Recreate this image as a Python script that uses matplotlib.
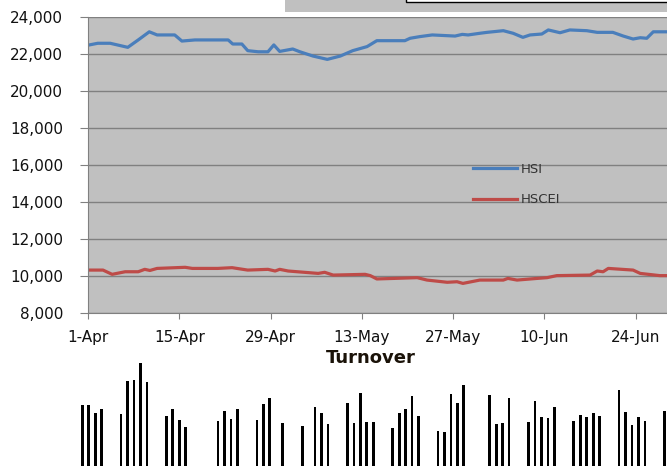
import numpy as np
import matplotlib
matplotlib.use("Agg")
import matplotlib.pyplot as plt
from matplotlib.patches import Rectangle

# index levels, x = days since 1-Apr
hsi_day = [0.2, 1.5, 3.4, 6.1, 7.7, 9.4, 10.6, 13.3, 14.4, 16.4, 21.5, 22.2, 23.6,
           24.5, 26.1, 27.6, 28.5, 29.4, 31.4, 32.5, 34.5, 36.7, 38.7, 40.6, 42.8,
           44.3, 48.6, 49.4, 50.9, 52.8, 56.3, 57.4, 58.3, 60.1, 61.2, 63.7, 65.2,
           66.7, 67.8, 69.6, 70.6, 72.4, 73.9, 76.5, 78.1, 80.5, 82.1, 83.6, 84.7,
           85.7, 86.7, 90.0]
hsi_val = [22490, 22580, 22580, 22360, 22760, 23200, 23030, 23030, 22700, 22760,
           22760, 22540, 22540, 22180, 22120, 22120, 22490, 22140, 22270, 22120,
           21890, 21710, 21890, 22180, 22400, 22720, 22720, 22850, 22940, 23030,
           22970, 23060, 23030, 23120, 23170, 23260, 23120, 22900, 23030, 23080,
           23300, 23150, 23300, 23260, 23170, 23170, 22970, 22810, 22880, 22850,
           23200, 23200]

hscei_day = [0.3, 2.3, 3.7, 5.7, 7.7, 8.7, 9.5, 10.6, 14.9, 16.0, 19.9, 22.1, 24.5,
             27.6, 28.7, 29.4, 30.7, 35.3, 36.3, 37.6, 42.5, 43.3, 44.3, 50.5, 52.0,
             55.1, 56.6, 57.5, 60.1, 63.7, 64.4, 65.8, 68.9, 70.4, 71.9, 77.0, 78.1,
             79.0, 79.8, 83.6, 84.7, 87.7, 90.0]
hscei_val = [10320, 10320, 10090, 10230, 10230, 10360, 10300, 10410, 10470, 10410,
             10410, 10450, 10320, 10360, 10270, 10360, 10270, 10140, 10200, 10050,
             10090, 10020, 9840, 9910, 9780, 9660, 9690, 9600, 9780, 9780, 9870,
             9780, 9870, 9910, 10020, 10050, 10270, 10230, 10410, 10320, 10140,
             10020, 10020]

tick_labels = ['1-Apr', '15-Apr', '29-Apr', '13-May', '27-May', '10-Jun', '24-Jun']

# daily turnover (relative bar heights)
turnover_dates = ['2014-04-01', '2014-04-02', '2014-04-03', '2014-04-04',
                  '2014-04-07', '2014-04-08', '2014-04-09', '2014-04-10', '2014-04-11',
                  '2014-04-14', '2014-04-15', '2014-04-16', '2014-04-17',
                  '2014-04-22', '2014-04-23', '2014-04-24', '2014-04-25',
                  '2014-04-28', '2014-04-29', '2014-04-30', '2014-05-02',
                  '2014-05-05', '2014-05-07', '2014-05-08', '2014-05-09',
                  '2014-05-12', '2014-05-13', '2014-05-14', '2014-05-15', '2014-05-16',
                  '2014-05-19', '2014-05-20', '2014-05-21', '2014-05-22', '2014-05-23',
                  '2014-05-26', '2014-05-27', '2014-05-28', '2014-05-29', '2014-05-30',
                  '2014-06-03', '2014-06-04', '2014-06-05', '2014-06-06',
                  '2014-06-09', '2014-06-10', '2014-06-11', '2014-06-12', '2014-06-13',
                  '2014-06-16', '2014-06-17', '2014-06-18', '2014-06-19', '2014-06-20',
                  '2014-06-23', '2014-06-24', '2014-06-25', '2014-06-26', '2014-06-27',
                  '2014-06-30']
turnover = [61, 61, 53, 57,
            52, 85, 86, 103, 84,
            50, 57, 46, 39,
            45, 55, 47, 57,
            46, 62, 68, 43,
            40, 59, 53, 42,
            63, 43, 73, 44, 44,
            38, 53, 57, 70, 50,
            35, 34, 72, 63, 81,
            71, 42, 43, 68,
            44, 65, 49, 48, 59,
            45, 51, 49, 53, 50,
            76, 54, 41, 49, 45,
            55]

W, H = 667, 466
fig = plt.figure(figsize=(W / 100, H / 100), dpi=100)

# top right leftovers of the page
fig.patches.append(Rectangle((285 / W, 1 - 11.5 / H), (W - 285) / W, 11.5 / H,
                             transform=fig.transFigure, facecolor='#c0c0c0',
                             edgecolor='none', zorder=0))
fig.patches.append(Rectangle((406 / W, 1 - 1.5 / H), (W - 400) / W, 5 / H,
                             transform=fig.transFigure, facecolor='white',
                             edgecolor='black', linewidth=1, zorder=1))

ax = fig.add_axes([88 / W, 1 - 313 / H, (W - 88) / W, 296 / H])
ax.set_facecolor('#c0c0c0')
ax.plot(hsi_day, hsi_val, color='#4a7ebb', lw=2.3, label='HSI')
ax.plot(hscei_day, hscei_val, color='#be4b48', lw=2.3, label='HSCEI')
ax.set_xlim(0, (W - 88) / 6.52)
ax.set_ylim(8000, 24000)
ax.set_yticks(range(8000, 24001, 2000))
ax.set_yticklabels(['{:,}'.format(v) for v in range(8000, 24001, 2000)])
ax.set_xticks(range(0, 85, 14))
ax.set_xticklabels(tick_labels)
ax.yaxis.grid(True, color='#808080', lw=1)
ax.set_axisbelow(True)
for s in ['top', 'right']:
    ax.spines[s].set_visible(False)
for s in ['left', 'bottom']:
    ax.spines[s].set_color('#808080')
ax.tick_params(axis='y', length=6, color='#808080', pad=12, labelsize=11,
               labelcolor='#111111')
ax.tick_params(axis='x', length=4, color='#808080', pad=8, labelsize=11,
               labelcolor='#111111')
ax.legend(loc='upper left', bbox_to_anchor=(473 / W, 1 - 163 / H),
          bbox_transform=fig.transFigure, frameon=False, fontsize=9.5,
          handlelength=3.3, handletextpad=0.3, labelspacing=1.3,
          borderpad=0, borderaxespad=0, labelcolor='#333333')

fig.text(371 / W, 1 - 358 / H, 'Turnover', ha='center', va='center',
         fontsize=13, fontweight='bold', color='#1a1208')

# turnover bars, own date scale
bday = (np.array(turnover_dates, dtype='datetime64[D]')
        - np.datetime64('2014-04-01')).astype(float)
bx = fig.add_axes([0, 0, 1, 116 / H])
bx.bar(bday, turnover, width=0.42, color='black')
bx.set_xlim(-82.3 / 6.467, (W - 82.3) / 6.467)
bx.set_ylim(0, 116)
bx.axis('off')

fig.savefig('out.png', dpi=100)
